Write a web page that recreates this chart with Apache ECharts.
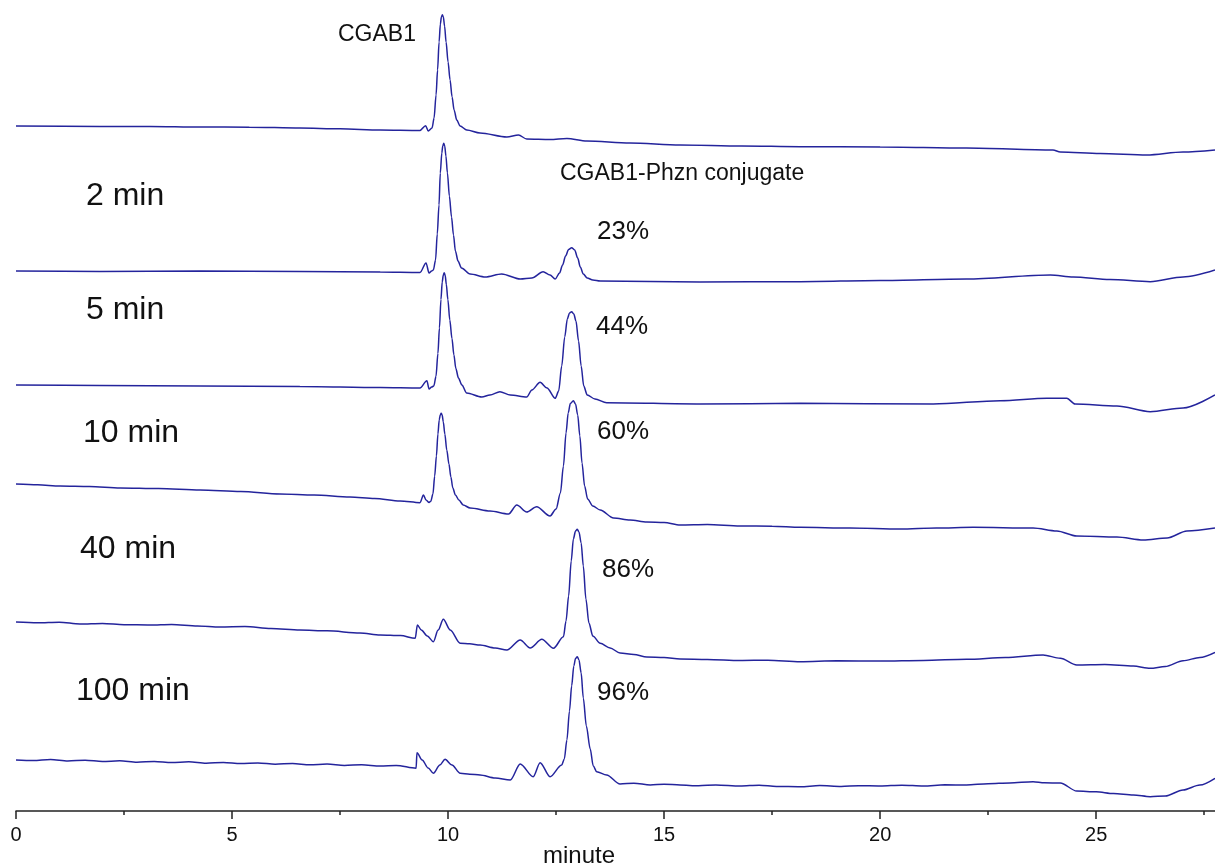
<!DOCTYPE html>
<html>
<head>
<meta charset="utf-8">
<script src="https://cdn.jsdelivr.net/npm/echarts@6/dist/echarts.min.js"></script>
<style>
html,body{margin:0;padding:0;background:#fff;}
#chart{width:1215px;height:866px;}
</style>
</head>
<body>
<div id="chart"></div>
<script>
// Retention time (minute) vs. detector signal (stacked, arbitrary units)
const trace1 = [[0,685],[1.94,684.5],[3.1,684.6],[4.26,684],[5.4,683.8],[6.57,683],[7.5,682.2],[8.43,681],[9.35,680.5],[9.48,685.3],[9.54,680],[9.63,683],[9.676,693],[9.722,716],[9.757,741],[9.792,769],[9.822,787],[9.845,794],[9.868,796.3],[9.891,794],[9.919,785],[9.954,769],[10.0,749],[10.046,731],[10.093,714],[10.139,701],[10.201,691],[10.278,685],[10.433,681],[10.74,678],[11.36,674],[11.63,676],[11.82,672],[12.36,671.5],[12.75,672.5],[13.21,670],[14.21,668],[15.37,666],[16.8,665],[18.15,664.3],[20.0,664],[22.0,663],[24.0,661],[24.17,659],[25.09,657.5],[26.17,656],[27.01,659],[27.75,661]];
const trace2 = [[0,540],[1.94,539.5],[4.26,540],[6.57,539.5],[8.43,539],[9.35,538.5],[9.49,548],[9.56,538],[9.62,540],[9.66,541],[9.71,551],[9.75,577],[9.79,606],[9.82,638],[9.855,658],[9.877,665],[9.90,667.7],[9.923,665],[9.95,655],[9.985,638],[10.03,615],[10.08,594],[10.125,576],[10.17,560],[10.23,550],[10.31,543],[10.51,537],[10.86,534],[11.24,537],[11.67,532],[11.94,533],[12.2,539.3],[12.36,536],[12.48,532],[12.58,538],[12.65,546],[12.72,555],[12.79,561.5],[12.86,563.3],[12.93,561],[13.0,553],[13.06,544],[13.13,537],[13.22,533],[13.35,531],[13.52,530],[15.83,529],[18.15,529.3],[20.0,530.5],[22.0,532],[23.94,536],[24.47,534],[25.32,531.5],[26.25,529.3],[27.01,534],[27.75,541]];
const trace3 = [[0,426],[1.94,425.5],[4.26,425],[6.57,424.5],[8.43,423.5],[9.35,423],[9.51,430.3],[9.56,422],[9.62,424],[9.67,425],[9.72,434.5],[9.765,457.5],[9.80,483],[9.835,511.5],[9.865,529],[9.888,535.7],[9.91,538.3],[9.933,535.7],[9.96,526.5],[9.995,511.5],[10.04,491],[10.09,472.5],[10.135,456],[10.18,442.5],[10.24,433],[10.32,426],[10.43,418],[10.78,414],[10.97,416],[11.2,419.3],[11.44,416],[11.82,414],[11.94,421],[12.13,428.7],[12.29,423],[12.48,412.7],[12.56,420],[12.63,445],[12.70,474],[12.76,492],[12.81,498],[12.86,499.3],[12.91,497],[12.96,490],[13.02,470],[13.08,445],[13.14,425],[13.22,416],[13.4,412],[13.67,408.3],[15.83,407],[18.15,407.7],[21.23,407],[22.78,410.3],[23.86,412.7],[24.32,412.7],[24.51,407],[25.48,405],[26.25,399.3],[27.01,403],[27.75,416]];
const trace4 = [[0,327],[0.5,326.2],[1.02,325],[1.7,324.5],[2.41,323],[3.3,322.4],[4.26,321],[5.2,319.4],[6.11,317],[6.9,316],[7.73,314],[8.3,312.6],[8.89,310],[9.35,308.3],[9.43,316],[9.49,311],[9.56,308.5],[9.60,309.8],[9.65,317],[9.69,335],[9.73,355],[9.765,377],[9.795,391],[9.818,396],[9.84,397.7],[9.863,396],[9.89,389],[9.925,377],[9.97,361],[10.02,347],[10.065,334],[10.11,323],[10.17,316],[10.25,311],[10.35,306],[10.51,303],[10.97,300],[11.4,297],[11.59,306],[11.82,299],[12.05,304.3],[12.36,295],[12.5,302],[12.6,318],[12.67,345],[12.73,378],[12.78,398],[12.83,407.5],[12.90,410.3],[12.95,407],[13.0,396],[13.05,375],[13.1,348],[13.16,325],[13.23,312],[13.35,305],[13.52,301],[13.83,293],[14.21,291],[14.6,289],[15.0,288.5],[15.37,286],[16.0,286.5],[16.76,285],[17.5,284.8],[18.15,283.7],[19.3,283],[20.46,282],[21.3,283],[22.15,283.7],[23.54,283],[24.09,280],[24.55,275],[25.48,274],[26.09,271],[26.64,273],[27.1,280],[27.75,283]];
const trace5 = [[0,189],[0.5,188.2],[1.0,188.8],[1.48,187],[2.0,187.6],[2.5,186.3],[3.1,186],[3.6,186.6],[4.2,185],[4.72,184],[5.3,184.4],[5.9,182.5],[6.57,181],[7.2,180.2],[7.96,178],[8.43,176],[8.9,175.4],[9.24,172.7],[9.29,186],[9.38,181],[9.52,175],[9.66,169.3],[9.77,181],[9.89,191.7],[10.05,181],[10.28,167.7],[10.5,167.2],[10.74,166],[11.09,163],[11.36,161],[11.67,171],[11.9,163],[12.17,171.7],[12.44,162.7],[12.67,174.3],[12.73,190],[12.79,215],[12.85,250],[12.90,272],[12.95,280],[12.99,281.7],[13.03,279],[13.08,268],[13.13,245],[13.19,212],[13.26,188],[13.35,175],[13.52,167.7],[13.75,163],[13.98,158],[14.3,156.5],[14.6,154],[15.0,153.4],[15.37,152],[16.0,151.6],[16.76,150.5],[17.4,150.8],[18.15,149.3],[19.0,150.2],[20.0,150],[21.0,150.6],[22.0,151.7],[22.9,153.5],[23.77,156],[24.17,152.7],[24.55,146],[25.2,146.5],[25.86,145],[26.25,142.7],[26.6,144.5],[27.01,150.3],[27.4,153.5],[27.75,158.7]];
const trace6 = [[0,51],[0.4,50.5],[0.8,51.5],[1.2,50],[1.6,50.8],[2.0,49.5],[2.4,50.2],[2.8,48.8],[3.2,49.6],[3.6,48.5],[4.0,49.2],[4.4,47.8],[4.8,48.6],[5.2,47.5],[5.6,48],[6.0,46.8],[6.4,47.5],[6.8,46.2],[7.2,46.9],[7.6,45.6],[8.0,46.2],[8.43,45],[8.8,45.6],[9.26,42.7],[9.28,58.3],[9.4,51],[9.54,43],[9.66,37.7],[9.81,46],[9.93,51.7],[10.09,46],[10.28,37.7],[10.5,36.8],[10.74,36],[11.09,33],[11.44,31],[11.67,47],[11.97,34.3],[12.13,48.3],[12.36,34.3],[12.63,46],[12.69,52],[12.75,71],[12.81,100],[12.86,125],[12.91,145],[12.95,152.5],[12.99,154.3],[13.03,151],[13.08,138],[13.13,113],[13.2,85],[13.29,62],[13.36,45],[13.44,39.3],[13.67,36],[13.98,27],[14.3,27.8],[14.68,26],[15.0,26.8],[15.37,26],[15.8,25.2],[16.2,26.1],[16.76,25],[17.2,25.8],[17.6,24.6],[18.15,24.3],[18.6,25.4],[19.1,24.5],[19.5,25.3],[20.0,25],[20.5,25.8],[21.0,25],[21.5,26.2],[22.0,26],[22.5,27.3],[23.0,28],[23.54,29.3],[23.8,28.2],[24.17,28],[24.55,20],[25.0,19.2],[25.4,17.5],[25.86,16],[26.25,14.3],[26.6,15],[27.01,21],[27.4,26],[27.75,32.7]];
const traces = [trace1, trace2, trace3, trace4, trace5, trace6];
const traceNames = ['CGAB1', '2 min', '5 min', '10 min', '40 min', '100 min'];
const majorTicks = [0, 5, 10, 15, 20, 25];
const minorTicks = [2.5, 7.5, 12.5, 17.5, 22.5, 27.5];
const xAxisTitle = 'minute';
const peakLabels = ['CGAB1', 'CGAB1-Phzn conjugate'];
const percentLabels = ['23%', '44%', '60%', '86%', '96%'];
const timeLabels = ['2 min', '5 min', '10 min', '40 min', '100 min'];

const FONT = 'Liberation Sans, Arial, sans-serif';
const lineColor = '#24249c';

const chart = echarts.init(document.getElementById('chart'), null, {renderer: 'canvas'});

function txt(text, x, y, size) {
  return {type: 'text', x: x, y: y, z: 10,
    style: {text: text, fontSize: size, fontFamily: FONT, fill: '#111', verticalAlign: 'middle', align: 'left'}};
}

const graphics = [
  txt(peakLabels[0], 338, 35, 23),
  txt(peakLabels[1], 560, 174, 23),
  txt(percentLabels[0], 597, 232, 26),
  txt(percentLabels[1], 596, 327, 26),
  txt(percentLabels[2], 597, 432, 26),
  txt(percentLabels[3], 602, 570, 26),
  txt(percentLabels[4], 597, 693, 26),
  txt(timeLabels[0], 86, 196, 32),
  txt(timeLabels[1], 86, 310, 32),
  txt(timeLabels[2], 83, 433, 32),
  txt(timeLabels[3], 80, 549, 32),
  txt(timeLabels[4], 76, 691, 32),
  txt(xAxisTitle, 543, 856, 24)
];

const option = {
  animation: false,
  backgroundColor: '#fff',
  grid: {left: 16, right: 0, top: 0, bottom: 55, containLabel: false, outerBoundsMode: 'none'},
  xAxis: [
    {
      type: 'value', min: 0, max: 27.75,
      splitLine: {show: false},
      axisLine: {show: true, onZero: false, lineStyle: {color: '#222', width: 1.5}},
      axisTick: {show: true, length: 8, inside: false, lineStyle: {color: '#222', width: 1.5}, customValues: majorTicks},
      axisLabel: {show: true, color: '#111', fontSize: 20, fontFamily: FONT, margin: 14, customValues: majorTicks}
    },
    {
      type: 'value', min: 0, max: 27.75, position: 'bottom',
      splitLine: {show: false},
      axisLine: {show: false},
      axisTick: {show: true, length: 4, lineStyle: {color: '#222', width: 1.5}, customValues: minorTicks},
      axisLabel: {show: false}
    }
  ],
  yAxis: {type: 'value', min: 0, max: 811, show: false},
  series: traces.map((d, i) => ({
    name: traceNames[i], type: 'line', data: d, xAxisIndex: 0,
    showSymbol: false, symbol: 'none', smooth: 0.3, smoothMonotone: 'x',
    lineStyle: {color: lineColor, width: 1.5},
    silent: true
  })),
  graphic: graphics
};
chart.setOption(option);
</script>
</body>
</html>
